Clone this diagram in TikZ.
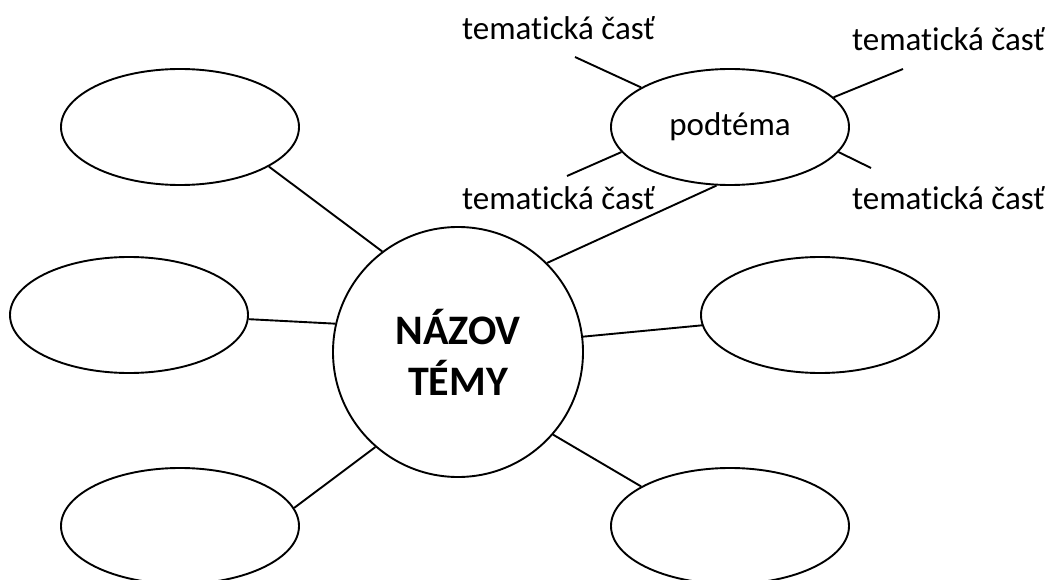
\documentclass[tikz,border=0pt]{standalone}
\usepackage{fontspec}
\setmainfont{Carlito}[Ligatures=NoCommon]
\usetikzlibrary{shapes.geometric}
\begin{document}
\begin{tikzpicture}[x=1pt,y=-1pt,line width=1.9pt,
  bubble/.style={draw,ellipse,minimum width=238pt,minimum height=116pt,inner sep=0pt},
  part/.style={font=\fontsize{33}{40}\selectfont,anchor=base,inner sep=0pt}]
\useasboundingbox (0,0) rectangle (1046,580);
% hlavna tema
\node[draw,circle,minimum size=250pt,inner sep=0pt,align=center,
  font=\fontsize{42}{51}\selectfont\bfseries] (tema) at (458,352) {NÁZOV\\TÉMY};
% podtemy
\node[bubble] (tl) at (180,127) {};
\node[bubble] (ml) at (129,315) {};
\node[bubble] (bl) at (180,526) {};
\node[bubble] (br) at (730,526) {};
\node[bubble] (mr) at (820,315) {};
\node[bubble,font=\fontsize{33}{40}\selectfont] (pod) at (730,127) {podtéma};
\draw (tema.127.5) -- (tl.-24.7);
\draw (tema.167.7) -- (ml.-2.9);
\draw (tema.229.8) -- (bl.9);
\draw (tema.-41.4) -- (br.156);
\draw (tema.7.3) -- (mr.185.8);
\draw (tema.45.3) -- (pod.257);
% tematicke casti
\coordinate (ul) at (575,57);
\coordinate (ur) at (903,69);
\coordinate (ll) at (567,176);
\coordinate (lr) at (871,168);
\draw (pod.156.6) -- (ul);
\draw (pod.16.2) -- (ur);
\draw (pod.193.5) -- (ll);
\draw (pod.-13.5) -- (lr);
\node[part] (tul) at (558.5,39.5) {tematická časť};
\node[part] (tur) at (948.5,51) {tematická časť};
\node[part] (tll) at (558.5,209) {tematická časť};
\node[part] (tlr) at (948.5,209) {tematická časť};
\end{tikzpicture}
\end{document}
